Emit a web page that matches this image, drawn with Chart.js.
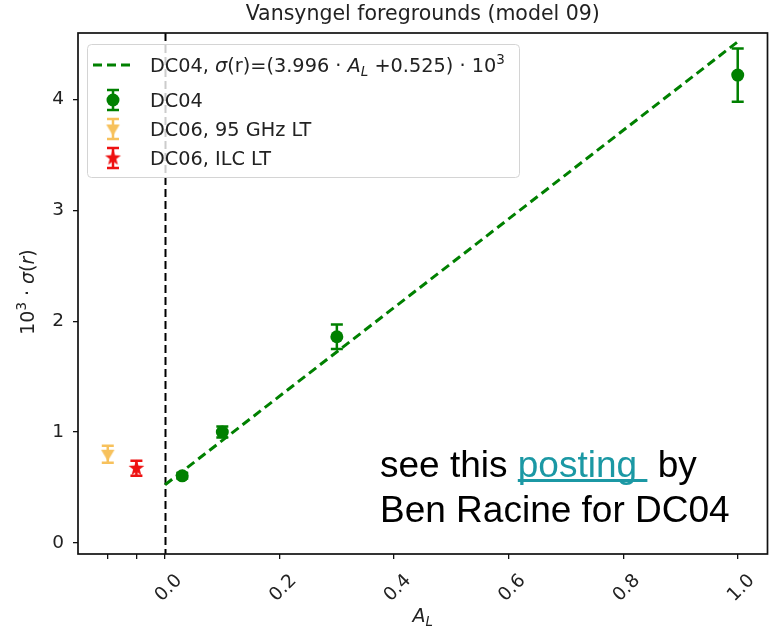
<!DOCTYPE html>
<html>
<head>
<meta charset="utf-8">
<script src="https://cdn.jsdelivr.net/npm/chart.js@4"></script>
<style>
  body { margin: 0; background: #fff; }
</style>
</head>
<body>
<canvas id="c" width="774" height="633"></canvas>
<script>
// values
const dc04X = [0.03, 0.1, 0.3, 1.0];
const dc04Y = [0.605, 1.0, 1.86, 4.22];
const dc04Err = [0.025, 0.05, 0.11, 0.24];

const lt95X = [-0.1];
const lt95Y = [0.80];
const lt95Err = [0.077];

const ilcX = [-0.05];
const ilcY = [0.673];
const ilcErr = [0.068];

// fit line end points (3.996 * A_L + 0.525)
const fitX = [0, 1];
const fitY = [0.525, 4.521];

const xTicks = [-0.1, -0.05, 0, 0.2, 0.4, 0.6, 0.8, 1.0];
const xTickLabels = ['', '', '0.0', '0.2', '0.4', '0.6', '0.8', '1.0'];
const yTicks = [0, 1, 2, 3, 4];

const GREEN = '#008000';
const ORANGE = '#f7c15c';
const RED = '#ee1111';
const TEAL = '#1b98a4';
const FONT = '"DejaVu Sans"';

function pts(xs, ys) {
    return xs.map((x, i) => ({ x: x, y: ys[i] }));
}

function makeStar(color, r) {
    const c = document.createElement('canvas');
    c.width = c.height = Math.ceil(2 * r + 2);
    const g = c.getContext('2d');
    g.fillStyle = color;
    g.beginPath();
    for (let k = 0; k < 10; k++) {
        const a = -Math.PI / 2 + k * Math.PI / 5;
        const rr = k % 2 ? r * 0.42 : r;
        g.lineTo(c.width / 2 + rr * Math.cos(a), c.height / 2 + rr * Math.sin(a));
    }
    g.closePath();
    g.fill();
    return c;
}
const starImg = makeStar(RED, 8.3);

// same shape for the 95 GHz marker: a filled triangle pointing down
function makeTriDown(color, r) {
    const c = document.createElement('canvas');
    c.width = c.height = Math.ceil(2 * r + 2);
    const g = c.getContext('2d');
    const m = c.width / 2;
    g.fillStyle = color;
    g.beginPath();
    g.moveTo(m - r * 0.9, m - r * 0.6);
    g.lineTo(m + r * 0.9, m - r * 0.6);
    g.lineTo(m, m + r * 0.9);
    g.closePath();
    g.fill();
    return c;
}
const triImg = makeTriDown(ORANGE, 7.5);

// draw text made of pieces (italic / sub / sup)
function richWidth(ctx, parts, size) {
    let w = 0;
    parts.forEach(p => {
        const s = (p.sub || p.sup) ? size * 0.7 : size;
        ctx.font = (p.i ? 'italic ' : '') + s + 'px ' + FONT;
        w += ctx.measureText(p.t).width;
    });
    return w;
}
function richText(ctx, parts, x, y, size, align) {
    let cx = x;
    if (align === 'center') cx = x - richWidth(ctx, parts, size) / 2;
    ctx.textAlign = 'left';
    ctx.textBaseline = 'alphabetic';
    parts.forEach(p => {
        const s = (p.sub || p.sup) ? size * 0.7 : size;
        ctx.font = (p.i ? 'italic ' : '') + s + 'px ' + FONT;
        let dy = 0;
        if (p.sub) dy = size * 0.22;
        if (p.sup) dy = -size * 0.42;
        ctx.fillText(p.t, cx, y + dy);
        cx += ctx.measureText(p.t).width;
    });
}

function errBar(ctx, x, y1, y2, color) {
    ctx.strokeStyle = color;
    ctx.lineWidth = 2.5;
    ctx.beginPath();
    ctx.moveTo(x, y1); ctx.lineTo(x, y2);
    ctx.moveTo(x - 6, y1); ctx.lineTo(x + 6, y1);
    ctx.moveTo(x - 6, y2); ctx.lineTo(x + 6, y2);
    ctx.stroke();
}

const errorBars = {
    id: 'errorBars',
    beforeDatasetsDraw(chart) {
        const ctx = chart.ctx, xs = chart.scales.x, ys = chart.scales.y, a = chart.chartArea;
        ctx.save();
        // axvline at 0
        const x0 = Math.round(xs.getPixelForValue(0)) + 0.5;
        ctx.strokeStyle = '#000';
        ctx.lineWidth = 2;
        ctx.setLineDash([8, 4]);
        ctx.beginPath();
        ctx.moveTo(x0, a.top); ctx.lineTo(x0, a.bottom);
        ctx.stroke();
        ctx.setLineDash([]);
        chart.data.datasets.forEach(ds => {
            if (!ds.errs) return;
            ds.data.forEach((p, i) => {
                const px = xs.getPixelForValue(p.x);
                errBar(ctx, px, ys.getPixelForValue(p.y - ds.errs[i]), ys.getPixelForValue(p.y + ds.errs[i]), ds.backgroundColor);
            });
        });
        ctx.restore();
    }
};

const decor = {
    id: 'decor',
    afterDraw(chart) {
        const ctx = chart.ctx, a = chart.chartArea;
        ctx.save();
        // spines
        ctx.strokeStyle = '#111';
        ctx.lineWidth = 1.7;
        ctx.strokeRect(a.left, a.top, a.right - a.left, a.bottom - a.top);

        // title
        ctx.fillStyle = '#222';
        ctx.font = '20.5px ' + FONT;
        ctx.textAlign = 'center';
        ctx.textBaseline = 'alphabetic';
        ctx.fillText('Vansyngel foregrounds (model 09)', (a.left + a.right) / 2, 20);

        // axis titles
        richText(ctx, [{ t: 'A', i: true }, { t: 'L', i: true, sub: true }], (a.left + a.right) / 2, 622, 19, 'center');
        ctx.save();
        ctx.translate(34, 292);
        ctx.rotate(-Math.PI / 2);
        richText(ctx, [{ t: '10' }, { t: '3', sup: true }, { t: ' · ' }, { t: 'σ', i: true }, { t: '(' }, { t: 'r', i: true }, { t: ')' }], 0, 0, 19, 'center');
        ctx.restore();

        // legend
        const lx = 87, ly = 44, lw = 432, lh = 133;
        ctx.fillStyle = 'rgba(255,255,255,0.8)';
        ctx.strokeStyle = '#d4d4d4';
        ctx.lineWidth = 1;
        ctx.beginPath();
        ctx.roundRect(lx + 0.5, ly + 0.5, lw, lh, 4);
        ctx.fill();
        ctx.stroke();

        const ds = chart.data.datasets;
        const rowY = [65, 100, 129, 158];
        const mx = 113, tx = 150;
        // fit line handle
        ctx.strokeStyle = GREEN;
        ctx.lineWidth = 3;
        ctx.setLineDash([9, 5]);
        ctx.beginPath();
        ctx.moveTo(93, rowY[0]); ctx.lineTo(135, rowY[0]);
        ctx.stroke();
        ctx.setLineDash([]);
        // DC04
        errBar(ctx, mx, rowY[1] - 10, rowY[1] + 10, GREEN);
        ctx.fillStyle = GREEN;
        ctx.beginPath(); ctx.arc(mx, rowY[1], 6.5, 0, Math.PI * 2); ctx.fill();
        // 95 GHz
        errBar(ctx, mx, rowY[2] - 10, rowY[2] + 10, ORANGE);
        ctx.drawImage(triImg, mx - triImg.width / 2, rowY[2] - triImg.height / 2);
        // ILC
        errBar(ctx, mx, rowY[3] - 10, rowY[3] + 10, RED);
        ctx.drawImage(starImg, mx - starImg.width / 2, rowY[3] - starImg.height / 2);

        ctx.fillStyle = '#222';
        richText(ctx, [{ t: 'DC04, ' }, { t: 'σ', i: true }, { t: '(r)=(3.996 · ' }, { t: 'A', i: true }, { t: 'L', i: true, sub: true }, { t: ' +0.525) · 10' }, { t: '3', sup: true }], tx, rowY[0] + 7, 19.3);
        richText(ctx, [{ t: ds[1].label }], tx, rowY[1] + 7, 19.3);
        richText(ctx, [{ t: ds[2].label }], tx, rowY[2] + 7, 19.3);
        richText(ctx, [{ t: ds[3].label }], tx, rowY[3] + 7, 19.3);

        // note
        ctx.font = '37px "Liberation Sans"';
        ctx.textAlign = 'left';
        let nx = 380;
        const w1 = 'see this ', w2 = 'posting ', w3 = ' by';
        ctx.fillStyle = '#000';
        ctx.fillText(w1, nx, 477);
        nx += ctx.measureText(w1).width;
        ctx.fillStyle = TEAL;
        ctx.fillText(w2, nx, 477);
        const uw = ctx.measureText(w2).width;
        ctx.fillRect(nx, 479, uw, 3);
        nx += uw;
        ctx.fillStyle = '#000';
        ctx.fillText(w3, nx, 477);
        ctx.fillText('Ben Racine for DC04', 380, 522);
        ctx.restore();
    }
};

new Chart(document.getElementById('c'), {
    type: 'scatter',
    data: {
        datasets: [{
            label: 'DC04 fit',
            data: pts(fitX, fitY),
            showLine: true,
            borderColor: GREEN,
            borderWidth: 3,
            borderDash: [9, 5],
            pointRadius: 0
        }, {
            label: 'DC04',
            data: pts(dc04X, dc04Y),
            errs: dc04Err,
            backgroundColor: GREEN,
            borderColor: GREEN,
            pointRadius: 6.5,
            borderWidth: 0
        }, {
            label: 'DC06, 95 GHz LT',
            data: pts(lt95X, lt95Y),
            errs: lt95Err,
            backgroundColor: ORANGE,
            borderColor: ORANGE,
            pointStyle: triImg,
            borderWidth: 0
        }, {
            label: 'DC06, ILC LT',
            data: pts(ilcX, ilcY),
            errs: ilcErr,
            backgroundColor: RED,
            borderColor: RED,
            pointStyle: starImg,
            borderWidth: 0
        }]
    },
    options: {
        responsive: false,
        animation: false,
        layout: { padding: { top: 33, right: 2, left: 0, bottom: 0 } },
        plugins: {
            legend: { display: false },
            tooltip: { enabled: false }
        },
        scales: {
            x: {
                type: 'linear',
                min: -0.152,
                max: 1.052,
                afterBuildTicks: s => { s.ticks = xTicks.map(v => ({ value: v })); },
                afterFit: s => { s.height = 79; },
                grid: { drawOnChartArea: false, tickLength: 5, color: '#111', lineWidth: 1.3 },
                border: { display: false },
                ticks: {
                    callback: (v, i) => xTickLabels[i],
                    minRotation: 45,
                    maxRotation: 45,
                    labelOffset: 14,
                    padding: 11,
                    color: '#222',
                    font: { family: 'DejaVu Sans', size: 18.5 }
                }
            },
            y: {
                min: -0.1,
                max: 4.6,
                afterBuildTicks: s => { s.ticks = yTicks.map(v => ({ value: v })); },
                afterFit: s => { s.width = 78; },
                grid: { drawOnChartArea: false, tickLength: 5, color: '#111', lineWidth: 1.3 },
                border: { display: false },
                ticks: {
                    callback: v => String(v),
                    padding: 9,
                    color: '#222',
                    font: { family: 'DejaVu Sans', size: 18.5 }
                }
            }
        }
    },
    plugins: [errorBars, decor]
});
</script>
</body>
</html>
